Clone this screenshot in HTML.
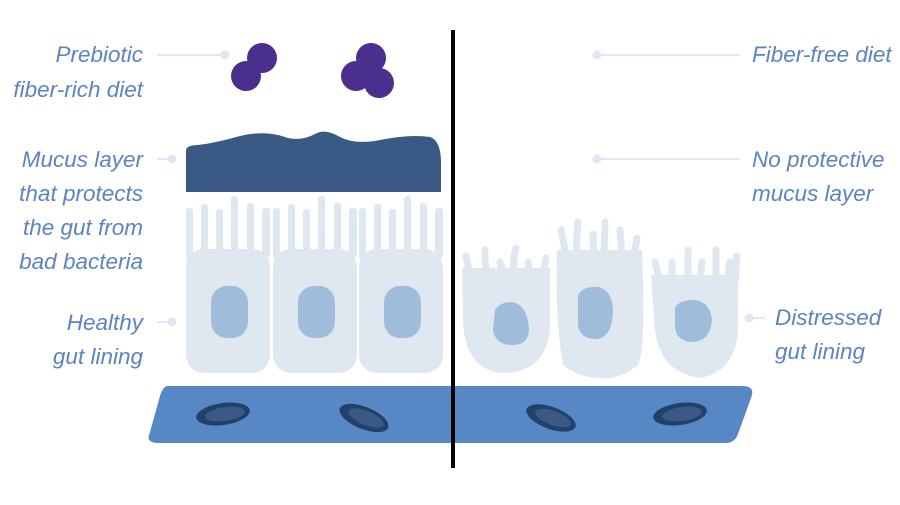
<!DOCTYPE html>
<html><head><style>
body{margin:0;background:#fff;width:900px;height:500px;overflow:hidden}
svg text{font-family:"Liberation Sans",sans-serif;font-style:italic;font-size:22.5px;fill:#5b84c2}
</style></head><body>
<svg width="900" height="500" viewBox="0 0 900 500">
<g fill="#4a2f8f">
<circle cx="262" cy="58" r="15"/><circle cx="246" cy="76" r="15"/>
<circle cx="371" cy="58" r="15"/><circle cx="356" cy="76" r="15"/><circle cx="379" cy="83" r="15"/>
</g>
<g stroke="#dfe7f0" stroke-width="2" fill="#dfe7f0">
<line x1="157" y1="55" x2="225" y2="55"/><circle cx="225" cy="55" r="3.5"/>
<line x1="157" y1="159" x2="172" y2="159"/><circle cx="172" cy="159" r="3.5"/>
<line x1="157" y1="322" x2="172" y2="322"/><circle cx="172" cy="322" r="3.5"/>
<line x1="597" y1="55" x2="740" y2="55"/><circle cx="597" cy="55" r="3.5"/>
<line x1="597" y1="159" x2="740" y2="159"/><circle cx="597" cy="159" r="3.5"/>
<line x1="749" y1="318" x2="765" y2="318"/><circle cx="749" cy="318" r="3.5"/>
</g>
<path d="M186 192 L186 150 Q187 145 198 145 Q215 143 240 136 Q265 130 285 137 Q300 142 315 134 Q325 128 340 137 Q355 145 380 140 Q410 134 430 137 Q440 140 441 160 L441 192 Z" fill="#3a5a85"/>
<g fill="#dfe7f0">
<g id="c1">
<rect x="186" y="249" width="84" height="124" rx="18"/>
<rect x="186" y="208" width="7" height="52" rx="3"/>
<rect x="201" y="204" width="7" height="50" rx="3"/>
<rect x="216" y="209" width="7" height="45" rx="3"/>
<rect x="231" y="196" width="7" height="58" rx="3"/>
<rect x="247" y="203" width="7" height="51" rx="3"/>
<rect x="262" y="208" width="8" height="50" rx="3"/>
</g>
<use href="#c1" x="87"/><use href="#c1" x="173"/>
<path d="M462 268 L550 268 L550 330 Q545 372 505 373 Q465 372 463 320 Z"/>
<path d="M557 250 L642 250 Q646 350 638 365 Q620 380 600 378 Q580 378 563 365 Q555 320 557 250 Z"/>
<path d="M651 275 L738 275 L738 330 Q735 372 700 378 Q660 372 655 330 Z"/>
</g>
<g stroke="#dfe7f0" stroke-width="7" stroke-linecap="round" fill="none">
<path d="M466 256 L470 276 M485 250 Q484 262 488 276 M500 262 L504 276 M516 248 Q512 262 514 276 M528 262 L530 276 M546 258 L542 276"/>
<path d="M561 230 L566 256 M578 222 Q576 240 577 256 M593 234 L594 256 M605 222 L604 256 M620 230 L622 256 M637 238 L634 256"/>
<path d="M655 262 L660 282 M672 262 L672 282 M688 250 L688 282 M702 262 L700 282 M716 250 L716 282 M730 262 L727 282 M737 256 L735 282"/>
</g>
<g fill="#9fbddb">
<rect x="211" y="286" width="37" height="52" rx="16"/>
<rect x="298" y="286" width="37" height="52" rx="16"/>
<rect x="384" y="286" width="37" height="52" rx="16"/>
<path d="M495 310 Q500 302 512 302 Q528 305 529 330 Q528 346 510 345 Q495 344 493 330 Z"/>
<path d="M578 296 Q582 286 598 287 Q612 290 613 310 Q613 335 598 339 Q580 340 578 325 Z"/>
<path d="M675 308 Q678 300 695 300 Q710 302 712 320 Q710 343 690 342 Q675 340 675 325 Z"/>
</g>
<path d="M168 386 L742 386 Q756 386 751 398 L738 434 Q735 443 725 443 L158 443 Q145 443 150 432 L160 396 Q163 386 168 386 Z" fill="#5787c4"/>
<g fill="#22416a">
<ellipse cx="223" cy="414" rx="27" ry="11" transform="rotate(-8 223 414)"/>
<ellipse cx="364" cy="418" rx="26" ry="11" transform="rotate(22 364 418)"/>
<ellipse cx="551" cy="418" rx="26" ry="11" transform="rotate(20 551 418)"/>
<ellipse cx="680" cy="414" rx="27" ry="11" transform="rotate(-8 680 414)"/>
</g>
<g fill="#3a5a85">
<ellipse cx="225" cy="414" rx="20" ry="7" transform="rotate(-8 225 414)"/>
<ellipse cx="366" cy="418" rx="19" ry="7" transform="rotate(22 366 418)"/>
<ellipse cx="553" cy="418" rx="19" ry="7" transform="rotate(20 553 418)"/>
<ellipse cx="682" cy="414" rx="20" ry="7" transform="rotate(-8 682 414)"/>
</g>
<rect x="451" y="30" width="4" height="438" fill="#000"/>
<g text-anchor="end">
<text x="143" y="62">Prebiotic</text><text x="143" y="97">fiber-rich diet</text>
<text x="143" y="167">Mucus layer</text><text x="143" y="201">that protects</text>
<text x="143" y="235">the gut from</text><text x="143" y="269">bad bacteria</text>
<text x="143" y="330">Healthy</text><text x="143" y="364">gut lining</text>
</g>
<text x="752" y="62">Fiber-free diet</text>
<text x="752" y="167">No protective</text><text x="752" y="201">mucus layer</text>
<text x="775" y="325">Distressed</text><text x="775" y="359">gut lining</text>
</svg>
</body></html>
